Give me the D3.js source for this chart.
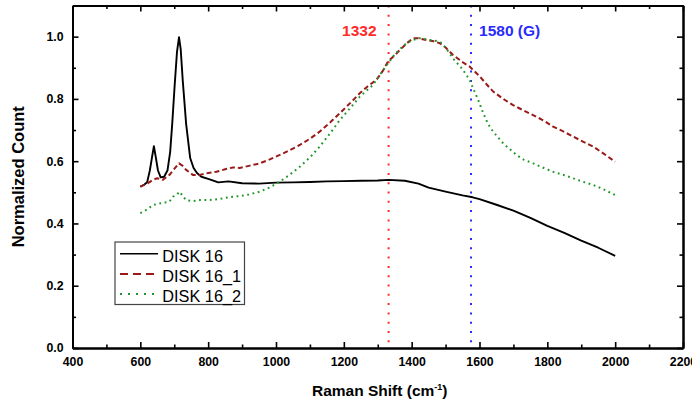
<!DOCTYPE html>
<html>
<head>
<meta charset="utf-8">
<script src="https://cdn.jsdelivr.net/npm/d3@7"></script>
<style>
  body { margin: 0; background: #fff; }
  svg { display: block; font-family: Arial, "Liberation Sans", sans-serif; }
</style>
</head>
<body>
<svg id="chart" width="692" height="401"></svg>
<script>
// Raman shift (cm-1) and normalized counts
var disk16X = [600, 612, 620, 628, 634, 640, 646, 652, 660, 670, 680, 688, 694, 701, 708, 714, 719, 725, 735, 747,
    757, 767, 780, 800, 830, 860, 900, 950, 1000, 1050, 1100, 1150, 1200, 1250, 1300, 1332, 1380, 1420, 1450, 1500,
    1550, 1580, 1600, 1650, 1700, 1750, 1800, 1850, 1900, 1950, 2000];
var disk16Y = [0.518, 0.525, 0.532, 0.57, 0.61, 0.648, 0.61, 0.57, 0.548, 0.55, 0.57, 0.63, 0.72, 0.84, 0.95, 0.998, 0.96, 0.86, 0.72, 0.61,
    0.578, 0.562, 0.55, 0.543, 0.532, 0.535, 0.529, 0.528, 0.531, 0.532, 0.533, 0.535, 0.536, 0.537, 0.538, 0.54, 0.537, 0.528, 0.515, 0.502,
    0.49, 0.484, 0.478, 0.46, 0.441, 0.418, 0.392, 0.37, 0.345, 0.322, 0.296];

var disk16_1X = [600, 620, 637, 650, 666, 686, 700, 714, 725, 735, 755, 775, 800, 824, 850, 873, 893, 920, 952, 980,
    1011, 1040, 1070, 1100, 1129, 1160, 1188, 1220, 1247, 1270, 1296, 1315, 1330, 1350, 1365, 1385, 1404, 1420, 1444, 1465,
    1483, 1500, 1522, 1550, 1571, 1581, 1601, 1620, 1640, 1670, 1699, 1730, 1758, 1790, 1817, 1850, 1876, 1905, 1935, 1965, 2000];
var disk16_1Y = [0.518, 0.528, 0.54, 0.545, 0.54, 0.556, 0.575, 0.593, 0.585, 0.572, 0.556, 0.556, 0.562, 0.566, 0.574, 0.58, 0.578, 0.585, 0.593, 0.605,
    0.62, 0.635, 0.652, 0.672, 0.695, 0.725, 0.754, 0.788, 0.818, 0.84, 0.861, 0.89, 0.92, 0.94, 0.957, 0.978, 0.995, 0.995, 0.989, 0.985,
    0.979, 0.965, 0.941, 0.918, 0.904, 0.893, 0.872, 0.848, 0.824, 0.8, 0.78, 0.763, 0.748, 0.73, 0.711, 0.694, 0.679, 0.663, 0.647, 0.625, 0.598];

var disk16_2X = [600, 620, 637, 660, 686, 696, 705, 716, 725, 735, 755, 775, 800, 830, 850, 873, 893, 920, 952, 980,
    1011, 1040, 1070, 1100, 1129, 1160, 1188, 1220, 1247, 1286, 1316, 1345, 1365, 1385, 1405, 1424, 1450, 1483, 1500, 1522,
    1550, 1571, 1581, 1595, 1611, 1625, 1640, 1670, 1709, 1730, 1758, 1790, 1817, 1850, 1876, 1905, 1935, 1965, 2000];
var disk16_2Y = [0.433, 0.445, 0.459, 0.465, 0.47, 0.486, 0.49, 0.502, 0.488, 0.475, 0.472, 0.475, 0.475, 0.478, 0.482, 0.486, 0.488, 0.493, 0.502, 0.515,
    0.534, 0.556, 0.582, 0.612, 0.647, 0.69, 0.732, 0.772, 0.807, 0.845, 0.893, 0.936, 0.96, 0.979, 0.99, 0.995, 0.99, 0.984, 0.965, 0.93,
    0.895, 0.861, 0.834, 0.8, 0.754, 0.72, 0.695, 0.657, 0.62, 0.605, 0.593, 0.578, 0.566, 0.555, 0.545, 0.534, 0.524, 0.51, 0.491];

var seriesNames = ['DISK 16', 'DISK 16_1', 'DISK 16_2'];
var markerX = [1332, 1575];
var markerLabels = ['1332', '1580 (G)'];
var xTicks = [400, 600, 800, 1000, 1200, 1400, 1600, 1800, 2000, 2200];
var xMinor = [500, 700, 900, 1100, 1300, 1500, 1700, 1900, 2100];
var yTicks = [0.0, 0.2, 0.4, 0.6, 0.8, 1.0];
var yMinor = [0.1, 0.3, 0.5, 0.7, 0.9];

var plotLeft = 72.5, plotRight = 683, plotTop = 5.5, plotBottom = 348;

var svg = d3.select('#chart');

var x = d3.scaleLinear().domain([400, 2200]).range([plotLeft, plotRight]);
var y = d3.scaleLinear().domain([0, 1.1]).range([plotBottom, plotTop]);

var styles = [
    { color: '#000000', dash: null, width: 1.9 },
    { color: '#9a1a1a', dash: '5,3', width: 2 },
    { color: '#22962a', dash: '1.8,3.6', width: 2 }
];

function zip(xs, ys) {
    return xs.map(function (d, i) { return [d, ys[i]]; });
}
var series = [zip(disk16X, disk16Y), zip(disk16_1X, disk16_1Y), zip(disk16_2X, disk16_2Y)];

// marker lines at 1332 and G band
var markerColors = ['#ff2a2a', '#2a2aff'];
svg.selectAll('line.marker')
    .data(markerX)
    .enter()
    .append('line')
    .attr('class', 'marker')
    .attr('x1', function (d) { return x(d); })
    .attr('x2', function (d) { return x(d); })
    .attr('y1', plotTop)
    .attr('y2', plotBottom)
    .attr('stroke', function (d, i) { return markerColors[i]; })
    .attr('stroke-width', 2)
    .attr('stroke-dasharray', '2,7.3');

svg.selectAll('text.marker')
    .data(markerX)
    .enter()
    .append('text')
    .attr('class', 'marker')
    .attr('x', function (d, i) { return i === 0 ? x(d) - 12 : x(d) + 8; })
    .attr('y', 35.7)
    .attr('text-anchor', function (d, i) { return i === 0 ? 'end' : 'start'; })
    .attr('font-size', 15.5)
    .attr('font-weight', 'bold')
    .attr('fill', function (d, i) { return markerColors[i]; })
    .text(function (d, i) { return markerLabels[i]; });

var line = d3.line()
    .x(function (d) { return x(d[0]); })
    .y(function (d) { return y(d[1]); });

svg.selectAll('path.series')
    .data(series)
    .enter()
    .append('path')
    .attr('class', 'series')
    .attr('d', line)
    .attr('fill', 'none')
    .attr('stroke', function (d, i) { return styles[i].color; })
    .attr('stroke-width', function (d, i) { return styles[i].width; })
    .attr('stroke-dasharray', function (d, i) { return styles[i].dash; })
    .attr('stroke-linejoin', 'round');

// axes, ticks pointing inward
function drawAxis(axis, tx, ty) {
    var g = svg.append('g')
        .attr('transform', 'translate(' + tx + ',' + ty + ')')
        .call(axis);
    g.selectAll('.domain').attr('stroke-width', 2).attr('stroke', '#000');
    g.selectAll('.tick line').attr('stroke-width', 1.6).attr('stroke', '#000');
    g.selectAll('text').attr('font-size', 12.3).attr('font-weight', 'bold')
        .attr('font-family', 'Arial, "Liberation Sans", sans-serif').attr('fill', '#000');
    return g;
}

drawAxis(d3.axisBottom(x).tickValues(xTicks).tickSize(-6).tickSizeOuter(0).tickPadding(9).tickFormat(d3.format('d')), 0, plotBottom);
drawAxis(d3.axisBottom(x).tickValues(xMinor).tickSize(-3.5).tickSizeOuter(0).tickFormat(''), 0, plotBottom);
drawAxis(d3.axisTop(x).tickValues(xTicks).tickSize(-6).tickSizeOuter(0).tickFormat(''), 0, plotTop);
drawAxis(d3.axisTop(x).tickValues(xMinor).tickSize(-3.5).tickSizeOuter(0).tickFormat(''), 0, plotTop);
drawAxis(d3.axisLeft(y).tickValues(yTicks).tickSize(-6).tickSizeOuter(0).tickPadding(9).tickFormat(d3.format('.1f')), plotLeft, 0);
drawAxis(d3.axisLeft(y).tickValues(yMinor).tickSize(-3.5).tickSizeOuter(0).tickFormat(''), plotLeft, 0);
drawAxis(d3.axisRight(y).tickValues(yTicks).tickSize(-6).tickSizeOuter(0).tickFormat(''), plotRight, 0);
drawAxis(d3.axisRight(y).tickValues(yMinor).tickSize(-3.5).tickSizeOuter(0).tickFormat(''), plotRight, 0);

// axis titles
var xTitle = svg.append('text')
    .attr('x', (plotLeft + plotRight) / 2 + 2)
    .attr('y', 396)
    .attr('text-anchor', 'middle')
    .attr('font-size', 15.5)
    .attr('font-weight', 'bold')
    .text('Raman Shift (cm');
xTitle.append('tspan').attr('dy', -6).attr('font-size', 9).text('-1');
xTitle.append('tspan').attr('dy', 6).text(')');

svg.append('text')
    .attr('transform', 'translate(23.5,' + ((plotTop + plotBottom) / 2) + ') rotate(-90)')
    .attr('text-anchor', 'middle')
    .attr('font-size', 16.5)
    .attr('font-weight', 'bold')
    .text('Normalized Count');

// legend
var legend = svg.append('g').attr('transform', 'translate(115,242)');
legend.append('rect')
    .attr('width', 129.5)
    .attr('height', 62.5)
    .attr('fill', '#fff')
    .attr('stroke', '#444')
    .attr('stroke-width', 1.2);

var items = legend.selectAll('g.item')
    .data(seriesNames)
    .enter()
    .append('g')
    .attr('class', 'item')
    .attr('transform', function (d, i) { return 'translate(0,' + (11.7 + i * 20.2) + ')'; });

items.append('line')
    .attr('x1', 5)
    .attr('x2', 43)
    .attr('stroke', function (d, i) { return styles[i].color; })
    .attr('stroke-width', function (d, i) { return i === 0 ? 1.6 : 2; })
    .attr('stroke-dasharray', function (d, i) { return i === 1 ? '8,5' : (i === 2 ? '2,6' : null); });

items.append('text')
    .attr('x', 47.3)
    .attr('y', 8.3)
    .attr('font-size', 16.3)
    .text(function (d) { return d; });
</script>
</body>
</html>
